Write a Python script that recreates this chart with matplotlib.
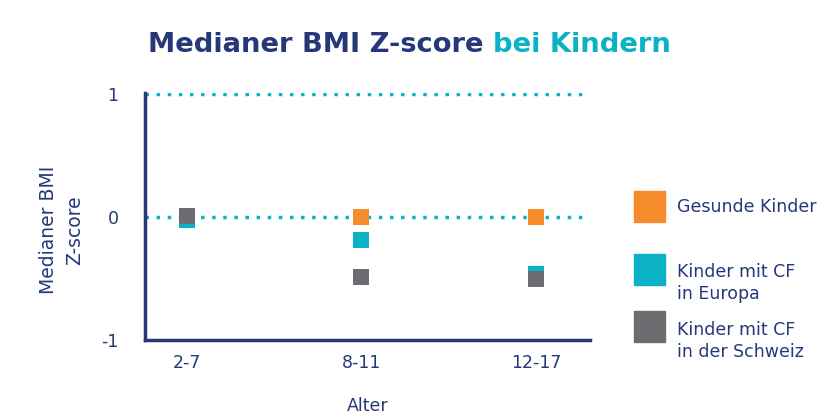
import matplotlib
matplotlib.use("Agg")
import matplotlib.pyplot as plt
from matplotlib.patches import Rectangle

plt.rcParams['font.family'] = ['DejaVu Sans']

categories = ["2-7", "8-11", "12-17"]
gesunde = [-0.01, 0.0, 0.0]
europa = [-0.02, -0.19, -0.46]
schweiz = [0.01, -0.49, -0.50]
series_labels = ["Gesunde Kinder", "Kinder mit CF\nin Europa", "Kinder mit CF\nin der Schweiz"]
yticks = [-1, 0, 1]

NAVY = "#26387A"
ORANGE = "#F68B2C"
TEAL = "#0BB1C5"
GREY = "#6C6D71"

fig = plt.figure(figsize=(8.22, 4.18), dpi=100)
ax = fig.add_axes([145/822, 1-340/418, (590-145)/822, (340-93)/418])

x = list(range(len(categories)))
for vals, c in [(gesunde, ORANGE), (europa, TEAL), (schweiz, GREY)]:
    ax.scatter(x, vals, marker='s', s=118, color=c, zorder=3, linewidths=0)

for yv in [0, 1]:
    ax.axhline(yv, color=TEAL, linestyle=(0, (1, 2.2)), linewidth=2.5, zorder=1)

ax.set_xlim(-0.24, 2.31)
ax.set_ylim(-1, 1.01)
ax.set_yticks(yticks)
ax.set_yticklabels([str(v) for v in yticks])
ax.set_xticks(x)
ax.set_xticklabels(categories)
ax.tick_params(length=0, labelsize=12.5, labelcolor=NAVY)
ax.tick_params(axis='x', pad=10)
ax.tick_params(axis='y', pad=19)
for s in ['top', 'right']:
    ax.spines[s].set_visible(False)
for s in ['left', 'bottom']:
    ax.spines[s].set_color(NAVY)
    ax.spines[s].set_linewidth(2.5)

ax.set_xlabel("Alter", color=NAVY, fontsize=12.5, labelpad=18)
ax.set_ylabel("Medianer BMI\nZ-score", color=NAVY, fontsize=13.5, linespacing=1.45, va='center')
ax.yaxis.set_label_coords(-0.187, 0.445)

# title
t1 = fig.text(148/822, 1-45/418, "Medianer BMI Z-score ", color=NAVY, fontsize=19.7,
              fontweight='bold', va='center', ha='left')
fig.canvas.draw()
bb = t1.get_window_extent()
fig.text(bb.x1/822, 1-45/418, "bei Kindern", color=TEAL, fontsize=19.7,
         fontweight='bold', va='center', ha='left')

# legend
leg_colors = [ORANGE, TEAL, GREY]
leg_y = [207, 270, 327]
txt_y = [207, 283, 341]
for c, yy, ty, lab in zip(leg_colors, leg_y, txt_y, series_labels):
    fig.patches.append(Rectangle((634/822, 1-(yy+15)/418), 31/822, 31/418,
                                 transform=fig.transFigure, color=c))
    fig.text(677/822, 1-ty/418, lab, color=NAVY, fontsize=12.5, va='center',
             ha='left', linespacing=1.35)

fig.savefig("out.png", dpi=100)
